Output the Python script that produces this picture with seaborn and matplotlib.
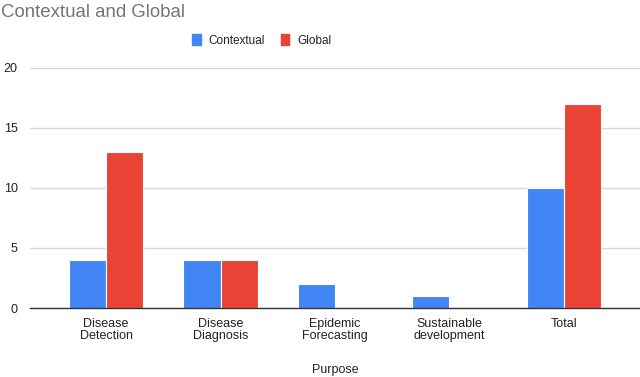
import matplotlib
matplotlib.use("Agg")
import matplotlib.pyplot as plt
import pandas as pd
import seaborn as sns

# data
purposes = ["Disease\nDetection", "Disease\nDiagnosis", "Epidemic\nForecasting",
            "Sustainable\ndevelopment", "Total"]
contextual = [4, 4, 2, 1, 10]
global_vals = [13, 4, 0, 0, 17]
series_names = ["Contextual", "Global"]
series_colors = ["#4285F4", "#EA4335"]
y_ticks = [0, 5, 10, 15, 20]

df = pd.DataFrame({
    "Purpose": purposes * 2,
    "Count": contextual + global_vals,
    "Series": [series_names[0]] * len(purposes) + [series_names[1]] * len(purposes),
})

sns.set_theme(style="white")
plt.rcParams["font.family"] = ["Liberation Sans", "DejaVu Sans"]

fig = plt.figure(figsize=(6.4, 3.77), dpi=100)
ax = fig.add_axes([0.047, 0.183, 0.953, 0.637])

sns.barplot(data=df, x="Purpose", y="Count", hue="Series",
            palette=series_colors, width=0.65, saturation=1,
            edgecolor="white", linewidth=0.8, ax=ax, legend=False)

# gridlines and axis
ax.set_ylim(0, 20)
ax.set_yticks(y_ticks)
ax.set_xlim(-0.665, 4.665)
ax.yaxis.grid(True, color="#d9d9d9", linewidth=1)
ax.set_axisbelow(True)
for s in ["top", "right", "left"]:
    ax.spines[s].set_visible(False)
ax.spines["bottom"].set_color("#333333")
ax.spines["bottom"].set_linewidth(1)
ax.tick_params(axis="both", length=0, labelsize=9, colors="#222222")
ax.tick_params(axis="x", pad=7)
ax.tick_params(axis="y", pad=9)
for lbl in ax.get_xticklabels():
    lbl.set_linespacing(1.08)
ax.set_xlabel("Purpose", fontsize=9, color="#222222", labelpad=15.5)
ax.set_ylabel("")

# legend
handles = [plt.Rectangle((0, 0), 1, 1, color=c) for c in series_colors]
fig.legend(handles, series_names, loc="center", bbox_to_anchor=(0.409, 0.893),
           ncol=2, frameon=False, fontsize=8.5, handlelength=0.75,
           handleheight=1.1, handletextpad=0.7, columnspacing=1.3,
           labelcolor="#222222")

fig.text(0.002, 0.955, "Contextual and Global", fontsize=13.4,
         color="#757575", va="baseline", ha="left")

fig.savefig("out.png", dpi=100)
